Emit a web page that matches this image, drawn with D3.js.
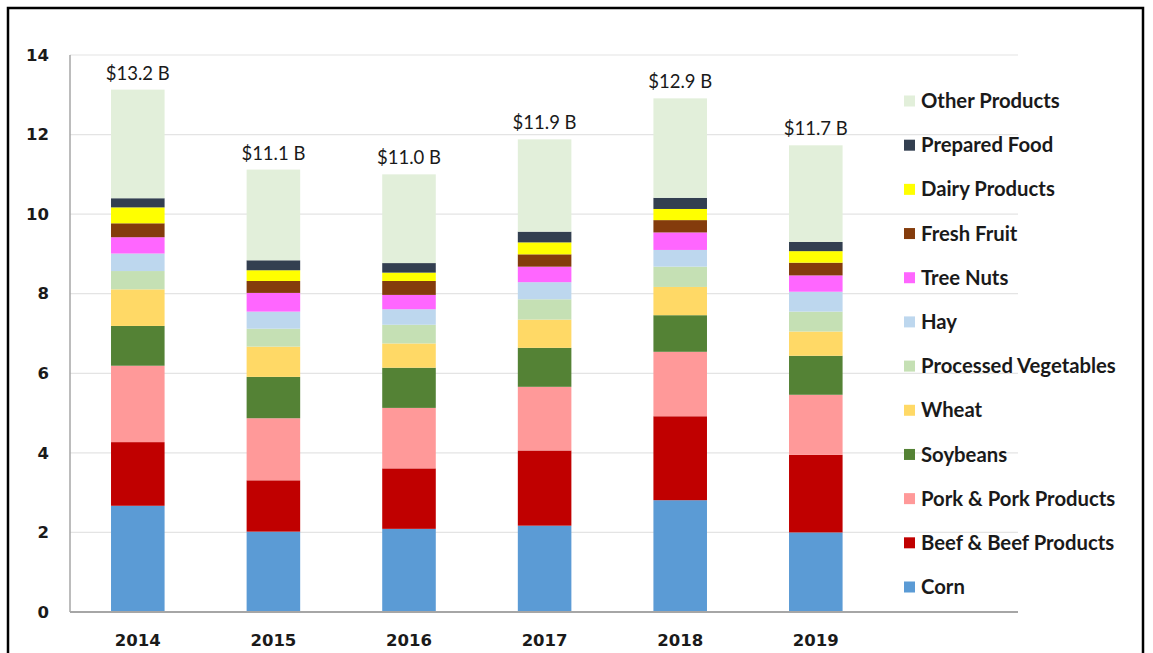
<!DOCTYPE html>
<html>
<head>
<meta charset="utf-8">
<script src="https://cdn.jsdelivr.net/npm/d3@7"></script>
<style>
    html, body { margin: 0; padding: 0; background: #fff; }
    svg { display: block; }
</style>
</head>
<body>
<div id="chart"></div>
<script>
// years on the x axis
const years = ['2014', '2015', '2016', '2017', '2018', '2019'];

// series, bottom to top (values in billion $)
const seriesNames = [
    'Corn', 'Beef & Beef Products', 'Pork & Pork Products', 'Soybeans', 'Wheat',
    'Processed Vegetables', 'Hay', 'Tree Nuts', 'Fresh Fruit', 'Dairy Products',
    'Prepared Food', 'Other Products',
];
const corn = [2.67, 2.02, 2.09, 2.17, 2.81, 2.00];
const beef = [1.60, 1.29, 1.52, 1.89, 2.11, 1.95];
const pork = [1.92, 1.56, 1.52, 1.60, 1.62, 1.51];
const soybeans = [1.00, 1.04, 1.01, 0.98, 0.92, 0.98];
const wheat = [0.92, 0.76, 0.61, 0.71, 0.71, 0.61];
const processedVeg = [0.46, 0.45, 0.47, 0.51, 0.51, 0.50];
const hay = [0.44, 0.43, 0.39, 0.43, 0.42, 0.50];
const treeNuts = [0.41, 0.47, 0.36, 0.39, 0.44, 0.41];
const freshFruit = [0.35, 0.30, 0.35, 0.31, 0.31, 0.32];
const dairy = [0.40, 0.27, 0.21, 0.30, 0.28, 0.29];
const preparedFood = [0.23, 0.25, 0.24, 0.27, 0.28, 0.23];
const otherProducts = [2.73, 2.28, 2.23, 2.32, 2.50, 2.43];

// total labels as printed above each bar
const totalLabels = ['$13.2 B', '$11.1 B', '$11.0 B', '$11.9 B', '$12.9 B', '$11.7 B'];

const yTicks = [0, 2, 4, 6, 8, 10, 12, 14];

const colors = [
    '#5B9BD5', '#C00000', '#FF9999', '#548235', '#FFD966', '#C5E0B4',
    '#BDD7EE', '#FF66FF', '#843C0C', '#FFFF00', '#333F50', '#E2EFDA',
];

const seriesValues = [
    corn, beef, pork, soybeans, wheat, processedVeg,
    hay, treeNuts, freshFruit, dairy, preparedFood, otherProducts,
];

const rows = years.map((yr, i) => {
    const row = {year: yr};
    seriesNames.forEach((name, k) => {
        row[name] = seriesValues[k][i];
    });
    return row;
});

const width = 1153;
const height = 653;
const plot = {left: 70, right: 1018, top: 55, bottom: 612};
const bandRight = 883.6;

const svg = d3.select('#chart')
    .append('svg')
    .attr('width', width)
    .attr('height', height);

// outer frame
svg.append('rect')
    .attr('x', 8)
    .attr('y', 8)
    .attr('width', 1135)
    .attr('height', 660)
    .attr('fill', 'none')
    .attr('stroke', '#000')
    .attr('stroke-width', 2.5);

const x = d3.scaleBand()
    .domain(years)
    .range([plot.left, bandRight])
    .paddingInner(0.605)
    .paddingOuter(0.3025);

const y = d3.scaleLinear()
    .domain([0, 14])
    .range([plot.bottom, plot.top]);

// gridlines
svg.append('g')
    .selectAll('line')
    .data(yTicks.filter((t) => t > 0))
    .enter()
    .append('line')
    .attr('x1', plot.left)
    .attr('x2', plot.right)
    .attr('y1', (d) => y(d))
    .attr('y2', (d) => y(d))
    .attr('stroke', '#e4e4e4')
    .attr('stroke-width', 1.2);

// y axis labels
const yAxis = d3.axisLeft(y)
    .tickValues(yTicks)
    .tickSize(0)
    .tickPadding(21);

const yAxisG = svg.append('g')
    .attr('transform', 'translate(' + plot.left + ',0)')
    .call(yAxis);
yAxisG.select('.domain').remove();
yAxisG.selectAll('text')
    .attr('font-family', 'DejaVu Sans')
    .attr('font-weight', 'bold')
    .attr('font-size', 16.5)
    .attr('fill', '#1a1a1a');

// bars
const stack = d3.stack().keys(seriesNames);
const layers = stack(rows);

svg.append('g')
    .selectAll('g')
    .data(layers)
    .enter()
    .append('g')
    .attr('fill', (d, i) => colors[i])
    .selectAll('rect')
    .data((d) => d)
    .enter()
    .append('rect')
    .attr('x', (d) => x(d.data.year))
    .attr('width', x.bandwidth())
    .attr('y', (d) => y(d[1]))
    .attr('height', (d) => y(d[0]) - y(d[1]));

// axis lines
svg.append('line')
    .attr('x1', plot.left)
    .attr('x2', plot.left)
    .attr('y1', plot.top)
    .attr('y2', plot.bottom)
    .attr('stroke', '#a6a6a6')
    .attr('stroke-width', 1.5);

svg.append('line')
    .attr('x1', plot.left)
    .attr('x2', plot.right)
    .attr('y1', plot.bottom)
    .attr('y2', plot.bottom)
    .attr('stroke', '#a6a6a6')
    .attr('stroke-width', 2);

// x axis labels
const xAxis = d3.axisBottom(x).tickSize(0).tickPadding(22);
const xAxisG = svg.append('g')
    .attr('transform', 'translate(0,' + plot.bottom + ')')
    .call(xAxis);
xAxisG.select('.domain').remove();
xAxisG.selectAll('text')
    .attr('font-family', 'DejaVu Sans')
    .attr('font-weight', 'bold')
    .attr('font-size', 16.5)
    .attr('fill', '#1a1a1a');

// totals above bars
const lastLayer = layers[layers.length - 1];
svg.append('g')
    .selectAll('text')
    .data(lastLayer)
    .enter()
    .append('text')
    .attr('x', (d) => x(d.data.year) + x.bandwidth() / 2)
    .attr('y', (d) => y(d[1]) - 10)
    .attr('text-anchor', 'middle')
    .attr('font-family', 'Lato')
    .attr('font-size', 18.5)
    .attr('fill', '#1a1a1a')
    .text((d, i) => totalLabels[i]);

// legend, top entry is the last series
const legendNames = seriesNames.slice().reverse();
const legendColors = colors.slice().reverse();
const legendY = d3.scalePoint()
    .domain(legendNames)
    .range([101, 587]);

const legend = svg.append('g')
    .selectAll('g')
    .data(legendNames)
    .enter()
    .append('g')
    .attr('transform', (d) => 'translate(904,' + legendY(d) + ')');

legend.append('rect')
    .attr('x', 0)
    .attr('y', -5.5)
    .attr('width', 11)
    .attr('height', 11)
    .attr('fill', (d, i) => legendColors[i]);

legend.append('text')
    .attr('x', 17)
    .attr('y', 0)
    .attr('dy', '0.35em')
    .attr('font-family', 'Lato')
    .attr('font-weight', 'bold')
    .attr('font-size', 20.3)
    .attr('fill', '#1a1a1a')
    .text((d) => d);
</script>
</body>
</html>
